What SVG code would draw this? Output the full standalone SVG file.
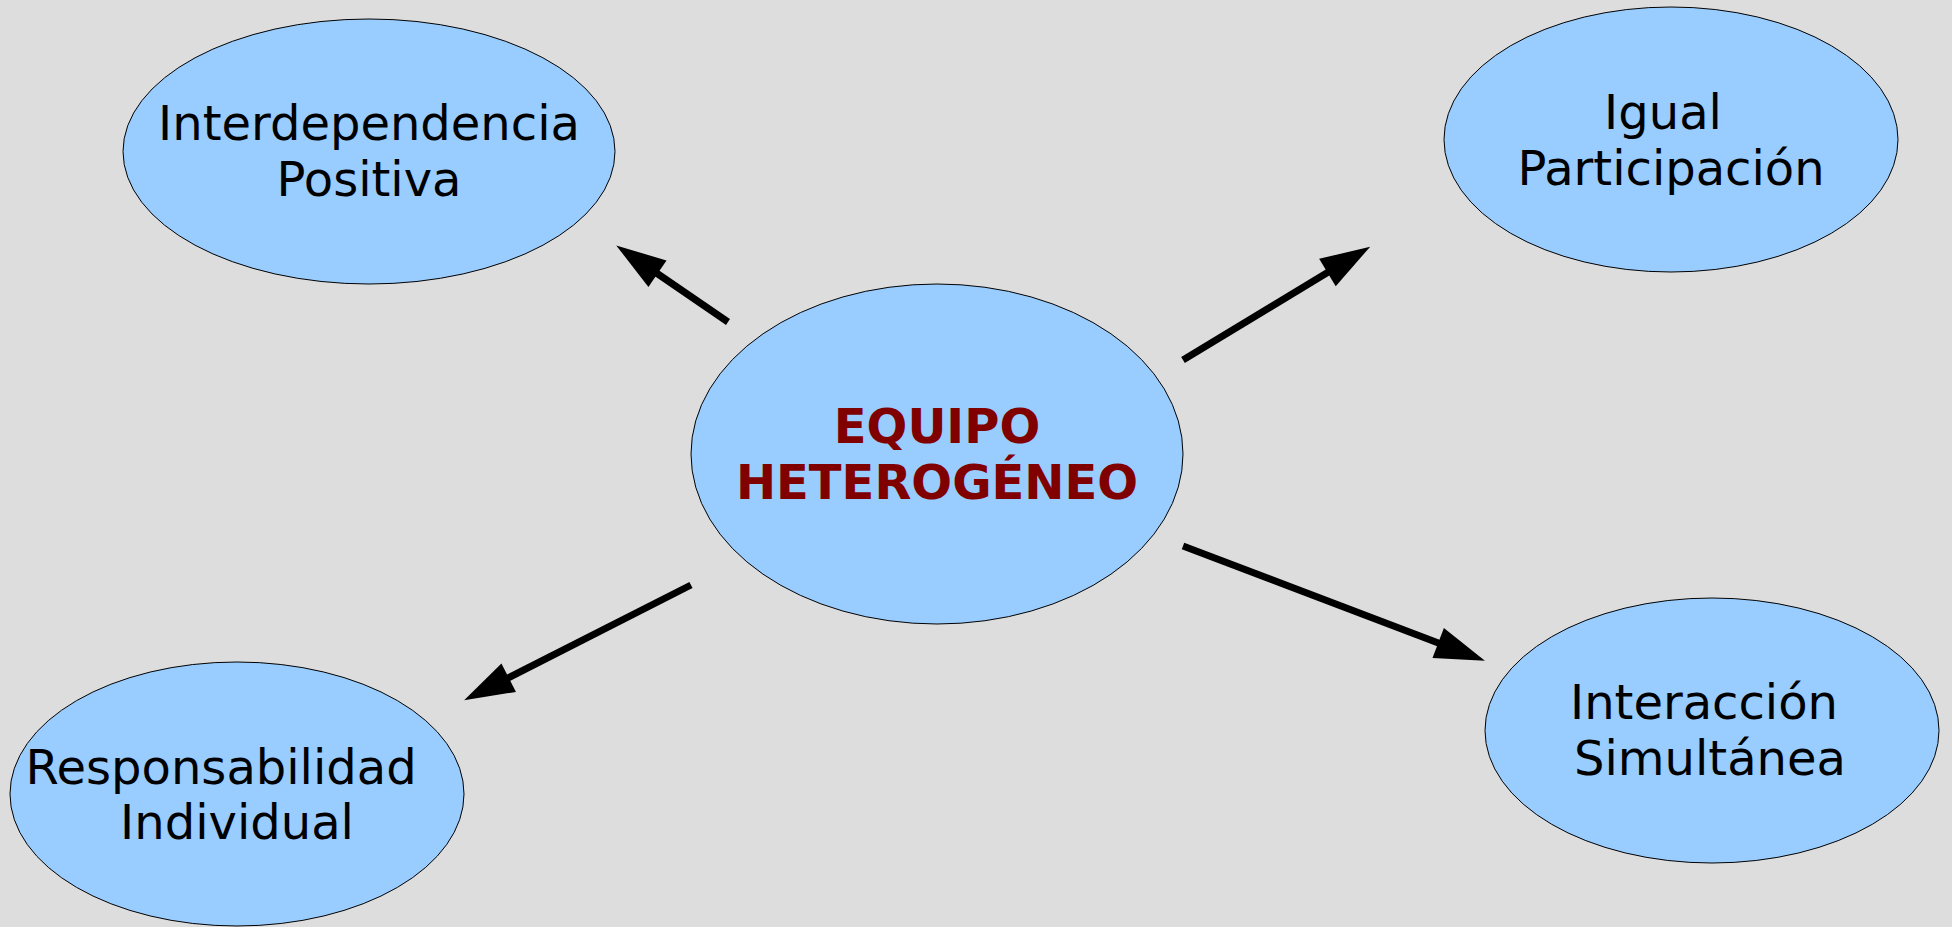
<svg xmlns="http://www.w3.org/2000/svg" width="1952" height="927" viewBox="0 0 1952 927">
<style>
.node{fill:#99ccff;stroke:#000;stroke-width:1}
.lbl{font-family:"DejaVu Sans",sans-serif;font-size:48px;fill:#000;text-anchor:middle}
.title{font-family:"DejaVu Sans",sans-serif;font-size:48px;font-weight:bold;fill:#800000;text-anchor:middle}
.conn{stroke:#000;stroke-width:7;fill:none;marker-end:url(#ah)}
</style>
<defs>
<marker id="ah" markerUnits="userSpaceOnUse" markerWidth="52" markerHeight="34" refX="3" refY="16" orient="auto" overflow="visible">
<path d="M0,0 L50,16 L0,32 z" fill="#000"/>
</marker>
</defs>
<rect x="0" y="0" width="1952" height="927" fill="#dddddd"/>
<g id="connectors">
<line class="conn" x1="728" y1="322" x2="655" y2="272"/>
<line class="conn" x1="1183" y1="360" x2="1330" y2="271"/>
<line class="conn" x1="691" y1="585" x2="506" y2="679"/>
<line class="conn" x1="1183" y1="546" x2="1441" y2="644"/>
</g>
<g id="node-center">
<ellipse class="node" cx="937" cy="454" rx="246" ry="170"/>
<text class="title" x="937" y="443">EQUIPO</text>
<text class="title" x="937" y="499">HETEROGÉNEO</text>
</g>
<g id="node-interdependencia">
<ellipse class="node" cx="369" cy="151.5" rx="246" ry="132.5"/>
<text class="lbl" x="369" y="140">Interdependencia</text>
<text class="lbl" x="369" y="196">Positiva</text>
</g>
<g id="node-igual">
<ellipse class="node" cx="1671" cy="139.5" rx="227" ry="132.5"/>
<text class="lbl" x="1663" y="129">Igual</text>
<text class="lbl" x="1671" y="185">Participación</text>
</g>
<g id="node-responsabilidad">
<ellipse class="node" cx="237" cy="794" rx="227" ry="132"/>
<text class="lbl" x="221" y="784">Responsabilidad</text>
<text class="lbl" x="237" y="839">Individual</text>
</g>
<g id="node-interaccion">
<ellipse class="node" cx="1712" cy="730.5" rx="227" ry="132.5"/>
<text class="lbl" x="1704" y="719">Interacción</text>
<text class="lbl" x="1710" y="775">Simultánea</text>
</g>
</svg>
